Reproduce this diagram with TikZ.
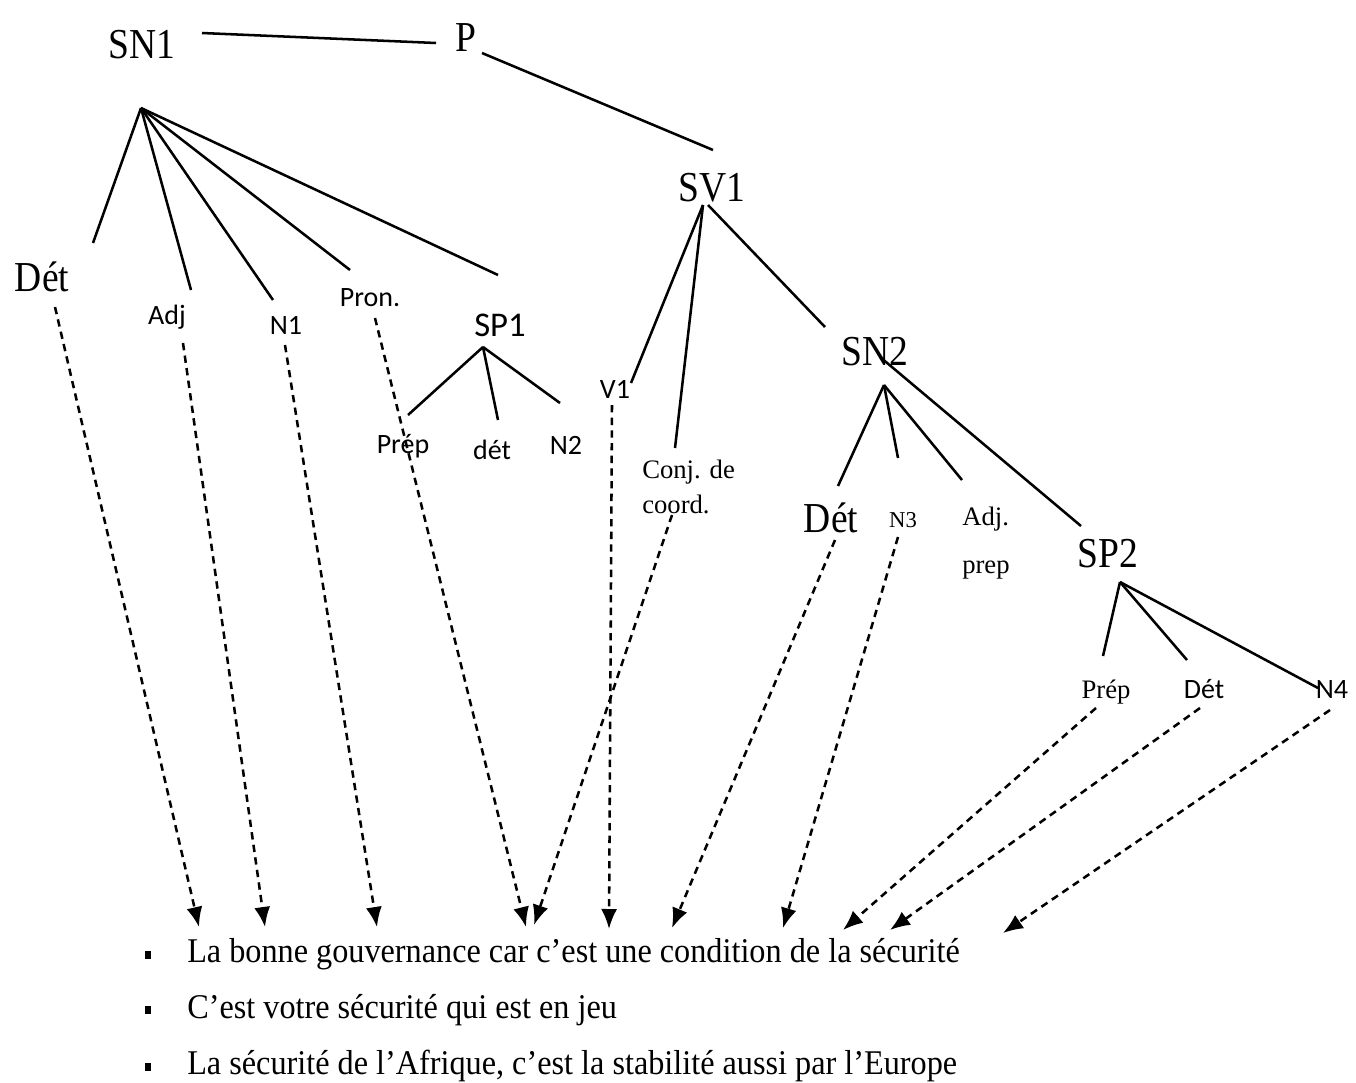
\documentclass[tikz,border=0pt]{standalone}
\usepackage{fontspec}
\setmainfont{Liberation Serif}
\newfontfamily\labsans{Carlito}
\newfontfamily\narrowserif[FakeStretch=0.88]{Liberation Serif}
\newfontfamily\textserif[FakeStretch=0.93]{Liberation Serif}
\usetikzlibrary{arrows.meta}
\begin{document}
\begin{tikzpicture}[x=0.75pt,y=-0.75pt,
  big/.style={font=\narrowserif\fontsize{32}{34}\selectfont, inner sep=0pt},
  small/.style={font=\labsans\fontsize{21}{22}\selectfont, inner sep=0pt},
  smallserif/.style={font=\fontsize{20}{36}\selectfont, inner sep=0pt},
  branch/.style={line width=1.9pt},
  link/.style={line width=1.9pt, dash pattern=on 5.5pt off 4pt,
    -{Latex[length=15pt,width=12pt]}},
  sentence/.style={font=\textserif\fontsize{26}{28}\selectfont, anchor=base west, inner sep=0pt},
  bullet/.style={fill=black, minimum width=4.5pt, minimum height=5.5pt, inner sep=0pt}
]
\useasboundingbox (0,0) rectangle (1356,1082);

% --- category labels ---
\node[big] (sn1) at (142,45) {SN1};
\node[big] (p) at (466,38) {P};
\node[big] (sv1) at (712,188) {SV1};
\node[big] (det1) at (42,277) {Dét};
\node[small] (adj1) at (167,317) {Adj};
\node[small] (n1) at (286,325) {N1};
\node[small] (pron) at (370,298) {Pron.};
\node[small, font=\labsans\fontsize{26}{28}\selectfont] (sp1) at (500,325) {SP1};
\node[small] (prep1) at (403,446) {Prép};
\node[small] (det2) at (492,450) {dét};
\node[small] (n2) at (566,445) {N2};
\node[small] (v1) at (615,389) {V1};
\node[smallserif, font=\fontsize{20}{26.5}\selectfont, align=left, anchor=west] (conj) at (642,487) {Conj. de\\coord.};
\node[big] (sn2) at (875,352) {SN2};
\node[big] (det3) at (831,518) {Dét};
\node[smallserif, font=\fontsize{17}{18}\selectfont] (n3) at (903,520) {N3};
\node[smallserif, align=left, anchor=west] (adjprep) at (962,543) {Adj.\\prep};
\node[big] (sp2) at (1108,554) {SP2};
\node[smallserif] (prep2) at (1106,692) {Prép};
\node[small] (det4) at (1204,689) {Dét};
\node[small] (n4) at (1332,689) {N4};

% --- branch points ---
\coordinate (sn1r) at (202,33);
\coordinate (pl) at (436,43);
\coordinate (pr) at (482,53);
\coordinate (sv1t) at (713,150);
\coordinate (sn1a) at (141,108);
\coordinate (e-det1) at (93,243);
\coordinate (e-adj1) at (191,290);
\coordinate (e-n1) at (273,300);
\coordinate (e-pron) at (350,270);
\coordinate (e-sp1) at (498,275);
\coordinate (sp1a) at (483,347);
\coordinate (e-prep1) at (408,415);
\coordinate (e-det2) at (498,420);
\coordinate (e-n2) at (560,403);
\coordinate (sv1a) at (703,205);
\coordinate (sv1b) at (708,205);
\coordinate (e-v1) at (631,383);
\coordinate (e-conj) at (675,448);
\coordinate (e-sn2) at (825,327);
\coordinate (sn2r) at (880,357);
\coordinate (e-sp2) at (1081,526);
\coordinate (sn2a) at (884,385);
\coordinate (e-det3) at (838,486);
\coordinate (e-n3) at (898,458);
\coordinate (e-adjprep) at (962,480);
\coordinate (sp2a) at (1120,582);
\coordinate (e-prep2) at (1103,656);
\coordinate (e-det4) at (1187,660);
\coordinate (e-n4) at (1318,688);

% --- tree branches ---
\draw[branch] (sn1r) -- (pl);
\draw[branch] (pr) -- (sv1t);
\foreach \e in {e-det1,e-adj1,e-n1,e-pron,e-sp1}
  \draw[branch] (sn1a) -- (\e);
\foreach \e in {e-prep1,e-det2,e-n2}
  \draw[branch] (sp1a) -- (\e);
\draw[branch] (sv1a) -- (e-v1);
\draw[branch] (sv1a) -- (e-conj);
\draw[branch] (sv1b) -- (e-sn2);
\draw[branch] (sn2r) -- (e-sp2);
\foreach \e in {e-det3,e-n3,e-adjprep}
  \draw[branch] (sn2a) -- (\e);
\foreach \e in {e-prep2,e-det4,e-n4}
  \draw[branch] (sp2a) -- (\e);

% --- starts and ends of the dashed links ---
\coordinate (s1) at (55,307);   \coordinate (t1) at (199,927);
\coordinate (s2) at (183,343);  \coordinate (t2) at (265,927);
\coordinate (s3) at (285,345);  \coordinate (t3) at (377,927);
\coordinate (s4) at (375,318);  \coordinate (t4) at (526,927);
\coordinate (s5) at (672,515);  \coordinate (t5) at (534,925);
\coordinate (s6) at (612,405);  \coordinate (t6) at (609,929);
\coordinate (s7) at (835,540);  \coordinate (t7) at (672,928);
\coordinate (s8) at (898,537);  \coordinate (t8) at (783,928);
\coordinate (s9) at (1096,708); \coordinate (t9) at (843,930);
\coordinate (s10) at (1200,708); \coordinate (t10) at (890,930);
\coordinate (s11) at (1330,710); \coordinate (t11) at (1003,933);
\foreach \i in {1,...,11}
  \draw[link] (s\i) -- (t\i);

% --- example sentences ---
\node[bullet] (b1) at (148,955) {};
\node[bullet] (b2) at (148,1010) {};
\node[bullet] (b3) at (148,1067) {};
\node[sentence] (l1) at (187,962) {La bonne gouvernance car c’est une condition de la sécurité};
\node[sentence] (l2) at (187,1018) {C’est votre sécurité qui est en jeu};
\node[sentence] (l3) at (187,1074) {La sécurité de l’Afrique, c’est la stabilité aussi par l’Europe};
\end{tikzpicture}
\end{document}
